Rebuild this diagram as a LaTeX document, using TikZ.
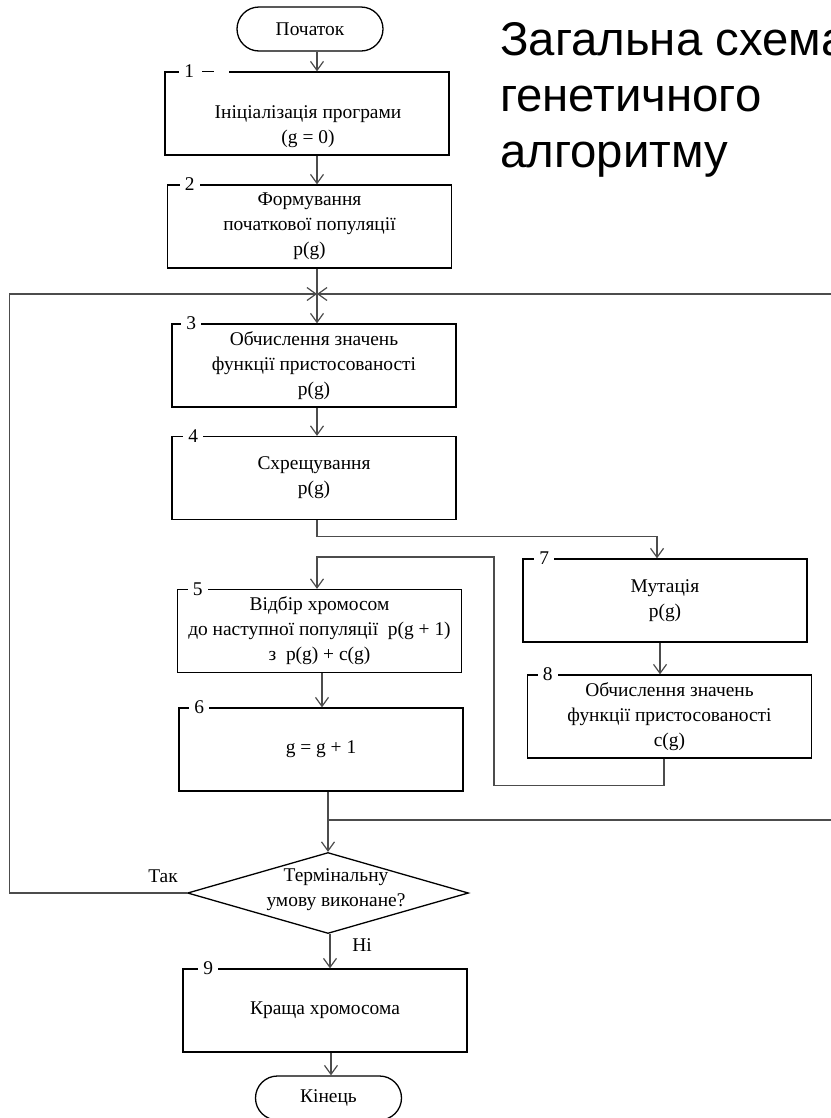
\documentclass[tikz,border=0pt]{standalone}
\usepackage{fontspec}
\setmainfont{Liberation Serif}
\newfontfamily\titlefont{Liberation Sans}
\usetikzlibrary{arrows.meta,shapes.geometric,shapes.misc}

\tikzset{
  blok/.style={draw, line width=1.3bp, minimum width=284bp, minimum height=83bp,
    inner sep=0pt, align=center, font=\fontsize{19.5}{25}\selectfont},
  tekst/.style={align=center, inner sep=0pt, font=\fontsize{19.5}{25}\selectfont},
  termin/.style={draw, rounded rectangle, line width=1.3bp, minimum width=146bp,
    minimum height=44bp, inner sep=0pt, font=\fontsize{19.5}{25}\selectfont},
  romb/.style={draw, diamond, line width=1.3bp, minimum width=281bp,
    minimum height=81bp, inner sep=0pt},
  nomer/.style={fill=white, inner xsep=5bp, inner ysep=1bp, font=\fontsize{19.5}{20}\selectfont},
  strilka/.style={-{Straight Barb[length=9bp,width=13bp]}, line width=1.2bp, black!70},
  liniya/.style={line width=1.2bp, black!70},
  titul/.style={anchor=base west, inner sep=0pt, font=\titlefont\fontsize{47.5}{56}\selectfont}
}

\begin{document}
\begin{tikzpicture}[x=1bp,y=-1bp]
\useasboundingbox (0,0) rectangle (831,1118);

% title
\node[titul] (tytul1) at (500,55) {Загальна схема};
\node[titul] (tytul2) at (500,111.5) {генетичного};
\node[titul] (tytul3) at (500,167.5) {алгоритму};

% blocks
\node[termin] (start) at (310,29) {Початок};
\node[blok] (b1) at (307,113.5) {};
\node[tekst] (t1) at (308,127) {Ініціалізація програми\\(g = 0)};
\node[blok] (b2) at (309.5,226.5) {Формування\\початкової популяції\\p(g)};
\node[blok] (b3) at (314,365.5) {Обчислення значень\\функції пристосованості\\p(g)};
\node[blok] (b4) at (314,478) {Схрещування\\p(g)};
\node[blok] (b5) at (319.5,631) {Відбір хромосом\\до наступної популяції\ \ p(g + 1)\\з\ \ p(g) + c(g)};
\node[blok] (b6) at (321,749.5) {g = g + 1};
\node[blok] (b7) at (665,600.5) {Мутація\\p(g)};
\node[blok] (b8) at (669.5,716.5) {Обчислення значень\\функції пристосованості\\c(g)};
\node[romb] (umova) at (328,893) {};
\node[tekst] (tumova) at (336,890) {Термінальну\\умову виконане?};
\node[blok] (b9) at (325,1010.5) {Краща хромосома};
\node[termin] (kinec) at (328.5,1098) {Кінець};

% numbers
\node[nomer] (n1) at ([xshift=25]b1.north west) {1};
\draw[white, line width=3bp] ([xshift=34]b1.north west) -- ([xshift=65]b1.north west);
\draw[line width=1.3bp] ([xshift=38]b1.north west) -- ([xshift=50]b1.north west);
\node[nomer] (n2) at ([xshift=23]b2.north west) {2};
\node[nomer] (n3) at ([xshift=20]b3.north west) {3};
\node[nomer] (n4) at ([xshift=22]b4.north west) {4};
\node[nomer] (n5) at ([xshift=21]b5.north west) {5};
\node[nomer] (n6) at ([xshift=21]b6.north west) {6};
\node[nomer] (n7) at ([xshift=22]b7.north west) {7};
\node[nomer] (n8) at ([xshift=21]b8.north west) {8};
\node[nomer] (n9) at ([xshift=26]b9.north west) {9};

% points of the lines
\coordinate (os) at (317,0);
\coordinate (vuzol1) at (317,294);
\coordinate (vuzol2) at (328,820);
\coordinate (obhid) at (494,557);
\coordinate (livyi) at (9.5,0);
\coordinate (pravyi) at (831,0);

% connectors
\draw[strilka] (start.south -| os) -- (b1.north -| os);
\draw[strilka] (b1.south -| os) -- (b2.north -| os);
\draw[liniya] (b2.south -| os) -- (vuzol1);
\draw[strilka] (vuzol1) -- (b3.north -| os);
\draw[strilka] (b3.south -| os) -- (b4.north -| os);
\draw[strilka] (b4.south -| os) -- ++(0,16) -| ([xshift=-8]b7.north);
\draw[strilka] ([xshift=-5]b7.south) -- ([xshift=-5]b7.south |- b8.north);
\draw[strilka] ([xshift=-5.5]b8.south) -- ++(0,27) -| (obhid) -| (b5.north -| os);
\draw[strilka] ([xshift=2.5]b5.south) -- ([xshift=2.5]b5.south |- b6.north);
\draw[liniya] (b6.south -| vuzol2) -- (vuzol2);
\draw[liniya] (vuzol2) -- (vuzol2 -| pravyi);
\draw[strilka] (vuzol2) -- (umova.north);
\draw[strilka] (umova.west) -| (livyi |- vuzol1) -- (vuzol1);
\draw[strilka] (pravyi |- vuzol1) -- (vuzol1);
\draw[strilka] ([xshift=2]umova.south) -- ([xshift=2]umova.south |- b9.north);
\draw[strilka] ([xshift=6]b9.south) -- ([xshift=6]b9.south |- kinec.north);

\node[tekst] (tak) at (163,876) {Так};
\node[tekst] (ni) at (362,945) {Ні};
\end{tikzpicture}
\end{document}
